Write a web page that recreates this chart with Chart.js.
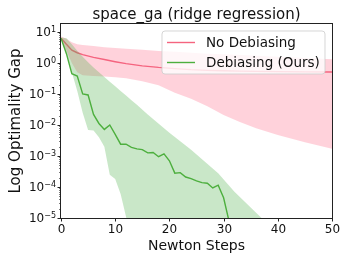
<!DOCTYPE html>
<html>
<head>
<meta charset="utf-8">
<script src="https://cdn.jsdelivr.net/npm/chart.js@4/dist/chart.umd.min.js"></script>
<style>
  html, body { margin: 0; padding: 0; background: #fff; }
  #wrap { width: 349px; height: 262px; position: relative; }
</style>
</head>
<body>
<div id="wrap"><canvas id="c" width="349" height="262"></canvas></div>
<script>
// --- data ---
var titleText = 'space_ga (ridge regression)';
var xLabel = 'Newton Steps';
var yLabel = 'Log Optimality Gap';
var seriesNames = ['No Debiasing', 'Debiasing (Ours)'];
var xTicks = [0, 10, 20, 30, 40, 50];
var yDecades = [-5, -4, -3, -2, -1, 0, 1];

var redSteps = [0, 1, 2, 3, 4, 6, 8, 10, 12, 15, 18, 21, 24, 27, 30, 33, 36, 40, 45, 50];
var redMean = [6.3, 4.0, 2.6, 2.14, 1.86, 1.51, 1.29, 1.1, 0.95, 0.81, 0.72, 0.66, 0.61, 0.58, 0.56, 0.545, 0.535, 0.525, 0.515, 0.51];
var redUpper = [7.1, 6.0, 4.7, 4.0, 3.8, 3.5, 3.2, 3.05, 2.9, 2.65, 2.45, 2.3, 2.15, 2.0, 1.9, 1.8, 1.7, 1.58, 1.45, 1.32];
var redLower = [5.6, 2.5, 1.0, 0.5, 0.4, 0.38, 0.37, 0.35, 0.32, 0.26, 0.19, 0.11, 0.07, 0.04, 0.021, 0.0126, 0.0079, 0.0048, 0.0028, 0.0017];

var greenSteps = [0, 1, 2, 3, 4, 5, 6, 7, 8, 9, 10, 11, 12, 13, 14, 15, 16, 17, 18, 19, 20, 21, 22, 23, 24, 25, 26, 27, 28, 29, 30, 31];
var greenMean = [6.3, 2.0, 0.45, 0.38, 0.1, 0.093, 0.022, 0.0112, 0.0072, 0.01, 0.005, 0.0024, 0.0024, 0.0019, 0.0017, 0.0016, 0.00126, 0.0013, 0.00095, 0.00117, 0.0007,
  0.00028, 0.00029, 0.00021, 0.000186, 0.000158, 0.000138, 0.000132, 0.000093, 0.000115, 0.000045, 0.0000079];

var greenBandSteps = [0, 1, 2, 3, 4, 5, 6, 7, 8, 9, 10, 11, 12, 13, 14, 16, 20, 24, 29, 32, 37, 40];
var greenUpper = [6.6, 6.3, 4.0, 2.5, 1.58, 1.06, 0.71, 0.5, 0.355, 0.25, 0.178, 0.126, 0.089, 0.063, 0.045, 0.022, 0.0056, 0.0016, 0.00028, 0.00007, 0.00001, 0.0000032];
var greenLower = [6.0, 2.0, 0.5, 0.126, 0.025, 0.0069, 0.0066, 0.004, 0.002, 0.00025, 0.00018, 0.00006, 0.000011, 0.0000025, 0.000001, 0.000001, 0.000001, 0.000001, 0.000001, 0.000001, 0.000001, 0.000001];

(function () {
  var FONT = '"DejaVu Sans", "Liberation Sans", sans-serif';
  var redLine = '#f5647f';
  var redFill = 'rgba(255,105,135,0.3)';
  var greenLine = '#4daf3e';
  var greenFill = 'rgba(77,175,74,0.3)';
  var ink = '#222';

  function pts(xs, ys) {
    return xs.map(function (x, i) { return { x: x, y: ys[i] }; });
  }

  function band(xs, ys, fill, order) {
    return {
      data: pts(xs, ys), borderWidth: 0, pointRadius: 0, borderColor: 'rgba(0,0,0,0)',
      backgroundColor: fill, fill: fill ? '+1' : false, order: order, tension: 0
    };
  }

  function line(xs, ys, color, order) {
    return {
      data: pts(xs, ys), borderWidth: 1.4, pointRadius: 0, borderColor: color,
      fill: false, order: order, tension: 0
    };
  }

  function expText(e) { return e < 0 ? '\u2212' + (-e) : String(e); }

  var decor = {
    id: 'decor',
    afterDatasetsDraw: function (chart) {
      var ctx = chart.ctx;
      var a = chart.chartArea;
      var xs = chart.scales.x;
      var ys = chart.scales.y;
      ctx.save();
      ctx.strokeStyle = ink;
      ctx.fillStyle = '#111';

      // frame
      ctx.lineWidth = 1;
      ctx.strokeRect(Math.round(a.left) - 0.5, Math.round(a.top) - 0.5, Math.round(a.right - a.left) + 1, Math.round(a.bottom - a.top) + 1);

      // x ticks + labels
      ctx.font = '12px ' + FONT;
      ctx.textAlign = 'center';
      ctx.textBaseline = 'top';
      xTicks.forEach(function (t) {
        var px = Math.round(xs.getPixelForValue(t)) + 0.5;
        ctx.beginPath();
        ctx.moveTo(px, a.bottom);
        ctx.lineTo(px, a.bottom + 3.5);
        ctx.stroke();
        ctx.fillText(String(t), px, a.bottom + 6);
      });

      // y ticks, minor ticks, labels
      yDecades.forEach(function (d) {
        var py = Math.round(ys.getPixelForValue(Math.pow(10, d))) + 0.5;
        ctx.lineWidth = 1;
        ctx.beginPath();
        ctx.moveTo(a.left, py);
        ctx.lineTo(a.left - 3.5, py);
        ctx.stroke();
        for (var m = 2; m <= 9; m++) {
          var v = m * Math.pow(10, d);
          if (v > ys.max) break;
          var my = Math.round(ys.getPixelForValue(v)) + 0.5;
          ctx.lineWidth = 0.6;
          ctx.beginPath();
          ctx.moveTo(a.left, my);
          ctx.lineTo(a.left - 2, my);
          ctx.stroke();
        }
        var sup = expText(d);
        ctx.font = '8px ' + FONT;
        var w2 = ctx.measureText(sup).width;
        ctx.font = '12px ' + FONT;
        var w1 = ctx.measureText('10').width;
        var right = a.left - 5;
        ctx.textAlign = 'left';
        ctx.textBaseline = 'middle';
        ctx.fillText('10', right - w2 - w1, py + 0.5);
        ctx.font = '8px ' + FONT;
        ctx.textBaseline = 'alphabetic';
        ctx.fillText(sup, right - w2, py - 0.5);
      });

      // title and axis labels
      var cx = (a.left + a.right) / 2;
      ctx.textAlign = 'center';
      ctx.textBaseline = 'alphabetic';
      ctx.font = '15px ' + FONT;
      ctx.fillText(titleText, cx, 19);
      ctx.font = '14px ' + FONT;
      ctx.fillText(xLabel, cx, 250);
      ctx.save();
      ctx.translate(20, (a.top + a.bottom) / 2);
      ctx.rotate(-Math.PI / 2);
      ctx.font = '15px ' + FONT;
      ctx.fillText(yLabel, 0, 0);
      ctx.restore();

      // legend
      var lx = 162, ly = 31, lw = 163, lh = 43, r = 3;
      ctx.beginPath();
      ctx.moveTo(lx + r, ly);
      ctx.arcTo(lx + lw, ly, lx + lw, ly + lh, r);
      ctx.arcTo(lx + lw, ly + lh, lx, ly + lh, r);
      ctx.arcTo(lx, ly + lh, lx, ly, r);
      ctx.arcTo(lx, ly, lx + lw, ly, r);
      ctx.closePath();
      ctx.fillStyle = 'rgba(255,255,255,0.8)';
      ctx.fill();
      ctx.strokeStyle = 'rgba(204,204,204,0.8)';
      ctx.lineWidth = 1;
      ctx.stroke();
      var colors = [redLine, greenLine];
      ctx.font = '13.5px ' + FONT;
      ctx.textAlign = 'left';
      ctx.textBaseline = 'middle';
      seriesNames.forEach(function (name, i) {
        var yy = 42.5 + i * 20;
        ctx.strokeStyle = colors[i];
        ctx.lineWidth = 1.4;
        ctx.beginPath();
        ctx.moveTo(167, yy);
        ctx.lineTo(195, yy);
        ctx.stroke();
        ctx.fillStyle = '#111';
        ctx.fillText(name, 206, yy + 0.5);
      });
      ctx.restore();
    }
  };

  new Chart(document.getElementById('c'), {
    type: 'line',
    data: {
      datasets: [
        band(redSteps, redUpper, redFill, 10),
        band(redSteps, redLower, null, 9),
        line(redSteps, redMean, redLine, 8),
        band(greenBandSteps, greenUpper, greenFill, 7),
        band(greenBandSteps, greenLower, null, 6),
        line(greenSteps, greenMean, greenLine, 5)
      ]
    },
    options: {
      responsive: false,
      animation: false,
      events: [],
      layout: { padding: { left: 61, top: 24, right: 17, bottom: 44 } },
      plugins: { legend: { display: false }, tooltip: { enabled: false }, title: { display: false } },
      scales: {
        x: { type: 'linear', min: 0, max: 50, display: false },
        y: { type: 'logarithmic', min: 1e-5, max: 18.1, display: false }
      }
    },
    plugins: [decor]
  });
})();
</script>
</body>
</html>
